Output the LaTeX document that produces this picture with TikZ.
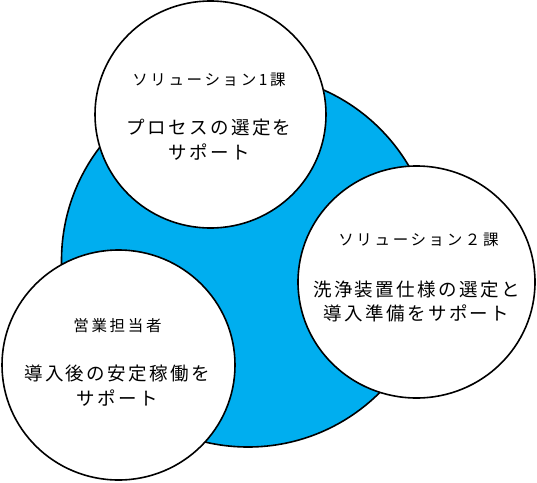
\documentclass[tikz,border=0pt]{standalone}
\usepackage{fontspec}
\usetikzlibrary{shapes.geometric}
\newfontfamily\jpTitle[LetterSpace=17]{Noto Sans CJK JP}
\newfontfamily\jpBody[LetterSpace=13]{Noto Sans CJK JP}
\definecolor{bluefill}{RGB}{0,174,239}
\tikzset{
  hubdisc/.style={circle, draw=black, line width=1.6pt, fill=bluefill, inner sep=0pt},
  ring/.style={ellipse, draw=black, line width=1.6pt, fill=white, inner sep=0pt},
  ttl/.style={font=\jpTitle\fontsize{15.5}{18}\selectfont, inner sep=0pt},
  body/.style={font=\jpBody\fontsize{18.5}{24.5}\selectfont, align=center, inner sep=0pt},
}
\begin{document}
\begin{tikzpicture}[x=1pt,y=-1pt]
\useasboundingbox (0,0) rectangle (537,482);
\node[hubdisc, minimum size=373pt] (hub) at (248,260.5) {};
\node[ring, minimum width=231pt, minimum height=227pt] (top) at (210.5,114.5) {};
\node[ring, minimum width=237pt, minimum height=232pt] (right) at (416.5,282) {};
\node[ring, minimum width=233pt, minimum height=230pt] (left) at (118.5,365) {};
\node[ttl] (toptitle) at (209,80) {ソリューション1課};
\node[body] (topbody) at (209,139.5) {プロセスの選定を\\サポート};
\node[ttl] (righttitle) at (418.5,240) {ソリューション２課};
\node[body] (rightbody) at (416.5,301.5) {洗浄装置仕様の選定と\\導入準備をサポート};
\node[ttl] (lefttitle) at (117.5,326) {営業担当者};
\node[body] (leftbody) at (117,385.5) {導入後の安定稼働を\\サポート};
\end{tikzpicture}
\end{document}
